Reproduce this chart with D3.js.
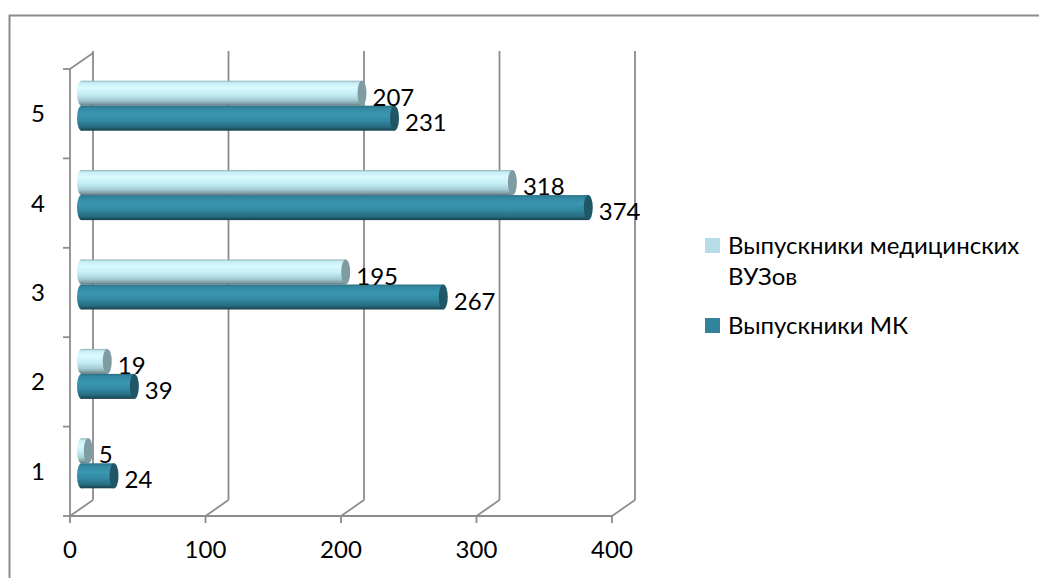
<!DOCTYPE html>
<html>
<head>
<meta charset="utf-8">
<script src="https://cdn.jsdelivr.net/npm/d3@7"></script>
<style>
  body { margin: 0; background: #fff; }
  text { font-family: Lato, "Open Sans", sans-serif; fill: #000; }
</style>
</head>
<body>
<div class="chart"></div>
<script>
const w = 1039;
const h = 578;

// data
const categories = ["1", "2", "3", "4", "5"];
const vuz = [5, 19, 195, 318, 207];     // Выпускники медицинских ВУЗов
const mk = [24, 39, 267, 374, 231];     // Выпускники МК
const xTicks = [0, 100, 200, 300, 400];
const seriesNames = ["Выпускники медицинских ВУЗов", "Выпускники МК"];

// 3d depth offset of the back wall
const dx = 23, dy = -16;
const fs = 24;

let svg = d3.select(".chart")
    .append("svg")
    .attr("width", w)
    .attr("height", h);

// outer chart border (runs off the page right/bottom)
svg.append("rect")
    .attr("x", 9.5).attr("y", 15.5)
    .attr("width", 1100).attr("height", 700)
    .attr("fill", "none")
    .attr("stroke", "#8c8c8c")
    .attr("stroke-width", 2);

let x = d3.scaleLinear().domain([0, 400]).range([70, 612]);
let y = d3.scaleBand().domain(categories.slice().reverse()).range([69, 516]);
let inner = d3.scaleBand().domain(["vuz", "mk"]).range([0, 50]);

const grid = "#8c8c8c";
let g = svg.append("g").attr("stroke", grid).attr("stroke-width", 1.8).attr("fill", "none");

// back wall verticals + floor diagonals
xTicks.forEach(t => {
    g.append("line")
        .attr("x1", x(t) + dx).attr("x2", x(t) + dx)
        .attr("y1", 51).attr("y2", 516 + dy);
    g.append("line")
        .attr("x1", x(t)).attr("x2", x(t) + dx)
        .attr("y1", 516).attr("y2", 516 + dy);
    g.append("line")
        .attr("x1", x(t)).attr("x2", x(t))
        .attr("y1", 516).attr("y2", 523);
});
// front floor edge
g.append("line").attr("x1", x(0)).attr("x2", x(400)).attr("y1", 516).attr("y2", 516);
// left axis + top diagonal
g.append("line").attr("x1", x(0)).attr("x2", x(0)).attr("y1", 69).attr("y2", 516);
g.append("line").attr("x1", x(0)).attr("x2", x(0) + dx).attr("y1", 69).attr("y2", 69 + dy);
// category ticks
categories.forEach(c => {
    g.append("line").attr("x1", x(0) - 7).attr("x2", x(0))
        .attr("y1", y(c)).attr("y2", y(c));
});
g.append("line").attr("x1", x(0) - 7).attr("x2", x(0)).attr("y1", 516).attr("y2", 516);

// gradients for cylinders
let defs = svg.append("defs");
function grad(id, stops) {
    let lg = defs.append("linearGradient").attr("id", id)
        .attr("x1", 0).attr("y1", 0).attr("x2", 0).attr("y2", 1);
    stops.forEach(s => lg.append("stop").attr("offset", s[0]).attr("stop-color", s[1]));
}
grad("gLight", [[0, "#8fb0b6"], [0.08, "#c6eef4"], [0.28, "#d9fbff"], [0.55, "#c3edf4"],
                [0.78, "#a5ccd3"], [0.92, "#7f9ea4"], [1, "#5f787d"]]);
grad("gDark", [[0, "#2a7085"], [0.1, "#3387a0"], [0.35, "#3a97b1"], [0.6, "#3389a2"],
               [0.85, "#276c80"], [1, "#153f4b"]]);

const series = [
    { key: "vuz", values: vuz, fill: "url(#gLight)", cap: "#7e9ca2" },
    { key: "mk", values: mk, fill: "url(#gDark)", cap: "#1f5767" }
];

const bh = inner.bandwidth();
const rx = 4.5;
let bars = svg.append("g");
let labels = svg.append("g");

series.forEach(s => {
    categories.forEach((c, i) => {
        let v = s.values[i];
        let top = y(c) + (y.bandwidth() - 50) / 2 + inner(s.key) + dy / 2;
        let x0 = x(0) + dx / 2;
        let x1 = x(v) + dx / 2;
        bars.append("ellipse")
            .attr("cx", x0).attr("cy", top + bh / 2)
            .attr("rx", rx).attr("ry", bh / 2)
            .attr("fill", s.fill);
        bars.append("rect")
            .attr("x", x0).attr("y", top)
            .attr("width", x1 - x0).attr("height", bh)
            .attr("fill", s.fill);
        bars.append("ellipse")
            .attr("cx", x1).attr("cy", top + bh / 2)
            .attr("rx", rx).attr("ry", bh / 2)
            .attr("fill", s.cap);
        labels.append("text")
            .attr("x", x1 + rx + 6)
            .attr("y", top + bh / 2 + 12.5)
            .attr("font-size", fs)
            .text(v);
    });
});

// x tick labels
svg.append("g").selectAll("text")
    .data(xTicks).enter().append("text")
    .attr("x", d => x(d))
    .attr("y", 558)
    .attr("text-anchor", "middle")
    .attr("font-size", fs)
    .text(d => d);

// category labels
svg.append("g").selectAll("text")
    .data(categories).enter().append("text")
    .attr("x", 38)
    .attr("y", d => y(d) + y.bandwidth() / 2 + 8.5)
    .attr("text-anchor", "middle")
    .attr("font-size", fs)
    .text(d => d);

// legend
let lg = svg.append("g");
lg.append("rect").attr("x", 705).attr("y", 238).attr("width", 15).attr("height", 15).attr("fill", "#b7dee8");
lg.append("text").attr("x", 728).attr("y", 254).attr("font-size", fs).text(seriesNames[0].split(" ").slice(0, 2).join(" "));
lg.append("text").attr("x", 728).attr("y", 285).attr("font-size", fs).text(seriesNames[0].split(" ")[2]);
lg.append("rect").attr("x", 705).attr("y", 318).attr("width", 15).attr("height", 15).attr("fill", "#31849b");
lg.append("text").attr("x", 728).attr("y", 334).attr("font-size", fs).text(seriesNames[1]);
</script>
</body>
</html>
